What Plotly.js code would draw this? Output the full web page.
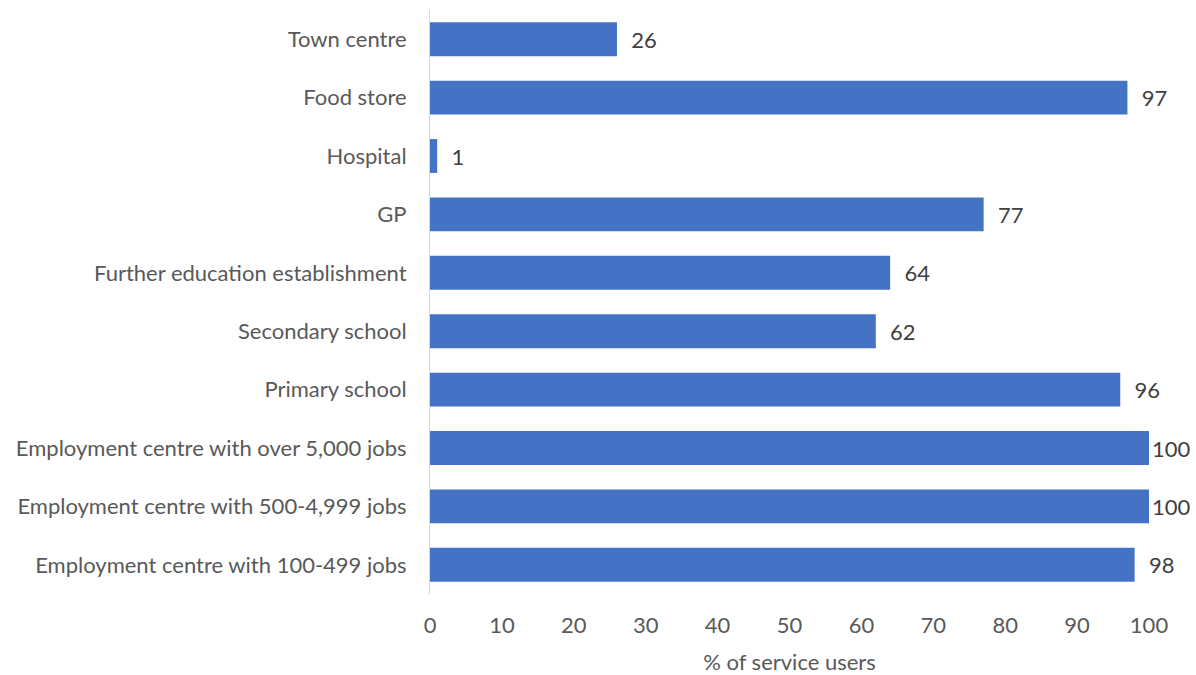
<!DOCTYPE html>
<html><head><meta charset="utf-8">
<script src="https://cdn.plot.ly/plotly-3.0.1.min.js"></script>
<style>html,body{margin:0;padding:0;background:#fff}#c{width:1196px;height:675px}</style>
</head><body><div id="c"></div>
<script>
var categories = ["Town centre","Food store","Hospital","GP","Further education establishment","Secondary school","Primary school","Employment centre with over 5,000 jobs","Employment centre with 500-4,999 jobs","Employment centre with 100-499 jobs"];
var values = [26,97,1,77,64,62,96,100,100,98];
var xTicks = [0,10,20,30,40,50,60,70,80,90,100];
var xTitle = "% of service users";

var FONT = "Lato, Carlito, Open Sans, sans-serif";
var trace = {
  type:"bar", orientation:"h", x:values, y:categories,
  marker:{color:"#4472C4"}, width:0.58,
  text:values.map(function(v){return (v>=100?"":"\u00a0\u00a0") + v;}),
  textposition:"outside", cliponaxis:false,
  textfont:{family:FONT, size:22, color:"#404040"},
  hoverinfo:"none"
};
var layout = {
  width:1196, height:675,
  margin:{l:430,r:47,t:10,b:81},
  paper_bgcolor:"#fff", plot_bgcolor:"#fff",
  showlegend:false,
  font:{family:FONT, size:22, color:"#595959"},
  xaxis:{range:[0,100], tickvals:xTicks, showgrid:false, zeroline:false, showline:false,
    ticks:"", ticklabelstandoff:16, tickfont:{size:22,color:"#595959"},
    title:{text:xTitle, font:{size:22,color:"#595959"}, standoff:18}},
  yaxis:{autorange:"reversed", showgrid:false, zeroline:false, showline:true, linecolor:"#d9d9d9", linewidth:1,
    ticks:"", ticklabelstandoff:18, tickfont:{size:22,color:"#595959"}}
};
Plotly.newPlot("c",[trace],layout,{staticPlot:true});
</script></body></html>
